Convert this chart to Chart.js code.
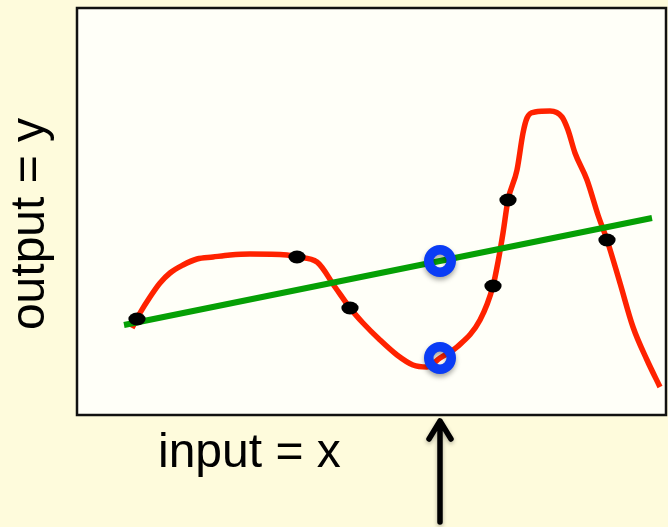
<!DOCTYPE html>
<html><head><meta charset="utf-8">
<script src="https://cdn.jsdelivr.net/npm/chart.js@4"></script>
<style>html,body{margin:0;padding:0;background:#FEFBDC;overflow:hidden}</style>
</head><body>
<canvas id="c" width="668" height="527"></canvas>
<script>
// ---- data (units: arbitrary, x 0..589, y 0..407) ----
const curveX = [55, 63, 73, 83, 93, 106, 120, 136, 153, 173, 210, 220, 240, 258, 273, 286, 303, 320, 336, 350, 363, 380, 403, 416, 421, 426, 431, 440, 446, 450, 458, 473, 485, 491, 498, 510, 521, 530, 543, 556, 570, 583];
const curveY = [87, 102, 118, 132, 142, 150, 156, 158, 160, 161, 160, 158, 153, 128, 107, 92, 75, 60, 50, 48, 57, 68, 95, 129, 153, 182, 215, 245, 282, 297, 303, 304, 298, 285, 262, 235, 200, 175, 132, 88, 55, 28];
const fitX = [47, 575];
const fitY = [90, 197];
const sampleX = [60, 220, 273, 416, 431, 530];
const sampleY = [96, 158, 107, 129, 215, 175];
const queryX = [363, 363];
const queryY = [154, 57];
const xLabel = "input = x";
const yLabel = "output = y";

const pts = (xs, ys) => xs.map((x, i) => ({x: x, y: ys[i]}));

// ellipse point style for the black samples
const dot = document.createElement('canvas');
dot.width = 18; dot.height = 14;
(function(){const g = dot.getContext('2d'); g.fillStyle = '#000'; g.beginPath(); g.ellipse(9, 7, 8.6, 6.4, 0, 0, Math.PI*2); g.fill();})();

const deco = {
  id: 'deco',
  beforeDraw(chart) {
    const {ctx, chartArea: a} = chart;
    ctx.save();
    ctx.fillStyle = '#FEFBDC';
    ctx.fillRect(0, 0, chart.width, chart.height);
    ctx.fillStyle = '#FFFFF8';
    ctx.fillRect(a.left, a.top, a.right - a.left, a.bottom - a.top);
    ctx.strokeStyle = '#111';
    ctx.lineWidth = 2.5;
    ctx.strokeRect(a.left, a.top, a.right - a.left, a.bottom - a.top);
    ctx.restore();
  },
  beforeDatasetDraw(chart, args) {
    if (args.index === 0) {
      const ctx = chart.ctx;
      ctx.save();
      ctx.shadowColor = 'rgba(0,0,0,0.35)';
      ctx.shadowBlur = 5;
      ctx.shadowOffsetY = 3;
    }
  },
  afterDatasetDraw(chart, args) {
    if (args.index === 0) chart.ctx.restore();
  },
  afterDraw(chart) {
    const {ctx} = chart;
    ctx.save();
    ctx.fillStyle = '#000';
    ctx.font = '48px "Liberation Sans", Arial, sans-serif';
    ctx.textBaseline = 'alphabetic';
    ctx.textAlign = 'left';
    ctx.fillText(xLabel, 158, 467);
    ctx.translate(44, 224);
    ctx.rotate(-Math.PI / 2);
    ctx.textAlign = 'center';
    ctx.fillText(yLabel, 0, 0);
    ctx.restore();
    // arrow pointing at the query x
    const ax = chart.scales.x.getPixelForValue(queryX[0]);
    ctx.save();
    ctx.shadowColor = 'rgba(0,0,0,0.3)';
    ctx.shadowBlur = 4;
    ctx.shadowOffsetY = 2;
    ctx.strokeStyle = '#000';
    ctx.lineWidth = 5.5;
    ctx.lineCap = 'round';
    ctx.lineJoin = 'round';
    ctx.beginPath();
    ctx.moveTo(ax, 522);
    ctx.lineTo(ax, 421);
    ctx.moveTo(ax - 11, 439);
    ctx.lineTo(ax, 421);
    ctx.lineTo(ax + 11, 439);
    ctx.stroke();
    ctx.restore();
  }
};

new Chart(document.getElementById('c'), {
  type: 'scatter',
  data: {
    datasets: [
      { data: pts(queryX, queryY), pointStyle: 'circle', pointRadius: 11.25, pointHoverRadius: 11.25,
        pointBorderColor: '#0a3cf5', pointBackgroundColor: 'rgba(0,0,0,0)', pointBorderWidth: 9.5, showLine: false },
      { data: pts(sampleX, sampleY), pointStyle: dot, showLine: false },
      { data: pts(fitX, fitY), showLine: true, borderColor: '#05a005', borderWidth: 6, pointRadius: 0, tension: 0 },
      { data: pts(curveX, curveY), showLine: true, borderColor: '#ff2200', borderWidth: 5.5, pointRadius: 0,
        cubicInterpolationMode: 'monotone', borderCapStyle: 'butt' }
    ]
  },
  options: {
    responsive: false,
    animation: false,
    events: [],
    layout: { autoPadding: false, padding: { left: 77, top: 8, right: 2, bottom: 112 } },
    plugins: { legend: { display: false }, tooltip: { enabled: false } },
    scales: {
      x: { type: 'linear', display: false, min: 0, max: 589 },
      y: { type: 'linear', display: false, min: 0, max: 407 }
    }
  },
  plugins: [deco]
});
</script>
</body></html>
